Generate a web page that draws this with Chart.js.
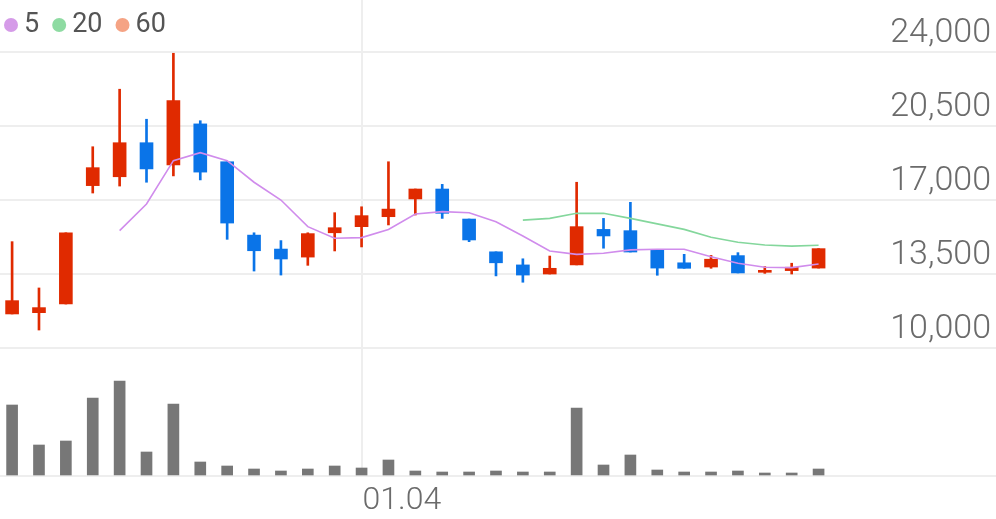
<!DOCTYPE html>
<html>
<head>
<meta charset="utf-8">
<script src="https://cdn.jsdelivr.net/npm/chart.js@4/dist/chart.umd.min.js"></script>
<style>
  html, body { margin: 0; padding: 0; background: #fff; }
  #wrap { width: 996px; height: 519px; }
</style>
</head>
<body>
<div id="wrap"><canvas id="chart"></canvas></div>
<script>
// candle data: open, high, low, close (one per trading day)
const opens  = [11610, 11670, 12080, 17680, 18100, 19710, 18660, 20600, 18810, 15340, 14680, 14300, 15450, 15740, 16210, 17050, 17520, 16100, 14550, 13930, 13500, 13930, 15610, 15550, 14640, 14030, 13830, 14370, 13580, 13660, 13780];
const highs  = [15030, 12840, 15450, 19520, 22240, 20820, 23940, 20750, 18810, 15450, 15080, 15450, 16400, 16680, 18810, 17520, 17740, 16100, 14550, 14220, 14350, 17840, 16130, 16890, 14640, 14430, 14380, 14510, 13850, 14010, 14700];
const lows   = [11610, 10850, 12080, 17330, 17660, 17840, 18140, 17950, 15140, 13640, 13450, 13910, 14590, 14780, 15820, 16290, 16130, 15030, 13410, 13110, 13500, 13930, 14720, 14540, 13440, 13770, 13770, 13550, 13530, 13500, 13780];
const closes = [12240, 11910, 15450, 18530, 19710, 18470, 21700, 18320, 15910, 14600, 14210, 15410, 15690, 16260, 16570, 17520, 16370, 15110, 14030, 13450, 13770, 15740, 15300, 14540, 13780, 13770, 14200, 13550, 13660, 13820, 14700];
const volumes = [70, 30, 34, 77, 94, 23, 71, 13, 9, 6, 4, 6, 9, 7, 15, 4, 3, 3, 4, 3, 3, 67, 10, 20, 5, 3, 3, 4, 2, 2, 6];
const ma5  = [null, null, null, null, 15550, 16810, 18860, 19240, 18860, 17840, 17000, 15740, 15190, 15220, 15610, 16340, 16450, 16400, 15970, 15300, 14590, 14430, 14480, 14640, 14670, 14670, 14320, 14010, 13820, 13800, 13970];
const ma20 = [null, null, null, null, null, null, null, null, null, null, null, null, null, null, null, null, null, null, null, 16050, 16130, 16370, 16370, 16130, 15870, 15610, 15240, 15000, 14870, 14820, 14860];
const priceTicks = [10000, 13500, 17000, 20500, 24000];
const dateLabels = [{ index: 13, text: '01.04' }];
const legendItems = [{ label: '5', color: '#d59be8' }, { label: '20', color: '#8edba2' }, { label: '60', color: '#f5a384' }];

const UP = '#e02a00';
const DOWN = '#0a74e8';

const idx = opens.map((_, i) => i);
const candleColor = idx.map(i => closes[i] >= opens[i] ? UP : DOWN);

const overlay = {
  id: 'overlay',
  beforeDatasetsDraw(chart) {
    const { ctx } = chart;
    const x = chart.scales.x, y = chart.scales.y, v = chart.scales.v;
    ctx.save();
    ctx.strokeStyle = '#eeeeee';
    ctx.lineWidth = 2;
    priceTicks.forEach(p => {
      const py = Math.round(y.getPixelForValue(p));
      ctx.beginPath(); ctx.moveTo(0, py); ctx.lineTo(996, py); ctx.stroke();
    });
    const base = Math.round(v.getPixelForValue(0)) + 1;
    ctx.beginPath(); ctx.moveTo(0, base); ctx.lineTo(996, base); ctx.stroke();
    dateLabels.forEach(d => {
      const px = Math.round(x.getPixelForValue(d.index));
      ctx.beginPath(); ctx.moveTo(px, 0); ctx.lineTo(px, base); ctx.stroke();
    });
    ctx.restore();
  },
  afterDraw(chart) {
    const { ctx } = chart;
    const x = chart.scales.x, y = chart.scales.y;
    ctx.save();
    ctx.fillStyle = '#6b6b6b';
    ctx.font = '300 34px Roboto';
    ctx.textAlign = 'right';
    ctx.textBaseline = 'alphabetic';
    priceTicks.forEach(p => {
      ctx.fillText(p.toLocaleString('en-US'), 991, y.getPixelForValue(p) - 10);
    });
    ctx.font = '300 32px Roboto';
    ctx.textAlign = 'left';
    dateLabels.forEach(d => {
      ctx.fillText(d.text, x.getPixelForValue(d.index) + 1, 509);
    });
    // legend
    ctx.font = '400 27px Roboto';
    ctx.textBaseline = 'middle';
    let lx = 4;
    legendItems.forEach(it => {
      ctx.fillStyle = it.color;
      ctx.beginPath(); ctx.arc(lx + 7, 25, 7, 0, Math.PI * 2); ctx.fill();
      ctx.fillStyle = '#555';
      ctx.fillText(it.label, lx + 20, 25);
      lx += 20 + ctx.measureText(it.label).width + 13;
    });
    ctx.restore();
  }
};

new Chart(document.getElementById('chart'), {
  data: {
    datasets: [
      {
        type: 'bar', label: 'volume', yAxisID: 'v',
        data: idx.map(i => ({ x: i, y: volumes[i] })),
        backgroundColor: '#777777', barThickness: 11, grouped: false, order: 5
      },
      {
        type: 'bar', label: 'wick', yAxisID: 'y',
        data: idx.map(i => ({ x: i, y: [lows[i], highs[i]] })),
        backgroundColor: candleColor, barThickness: 2, grouped: false, order: 4
      },
      {
        type: 'bar', label: 'body', yAxisID: 'y',
        data: idx.map(i => ({ x: i, y: [opens[i], closes[i]] })),
        backgroundColor: candleColor, barThickness: 13, minBarLength: 2, grouped: false, order: 3
      },
      {
        type: 'line', label: 'MA5', yAxisID: 'y',
        data: idx.map(i => ({ x: i, y: ma5[i] })),
        borderColor: '#d08cec', borderWidth: 1.6, pointRadius: 0, tension: 0, order: 1
      },
      {
        type: 'line', label: 'MA20', yAxisID: 'y',
        data: idx.map(i => ({ x: i, y: ma20[i] })),
        borderColor: '#84d79c', borderWidth: 1.6, pointRadius: 0, tension: 0, order: 2
      }
    ]
  },
  options: {
    responsive: true,
    maintainAspectRatio: false,
    animation: false,
    layout: { padding: 0 },
    plugins: { legend: { display: false }, tooltip: { enabled: false } },
    scales: {
      x: { type: 'linear', display: false, min: -0.45, max: 36.6, offset: false },
      y: { display: false, min: 1912, max: 26460 },
      v: { display: false, min: -44, max: 475 }
    }
  },
  plugins: [overlay]
});
</script>
</body>
</html>
